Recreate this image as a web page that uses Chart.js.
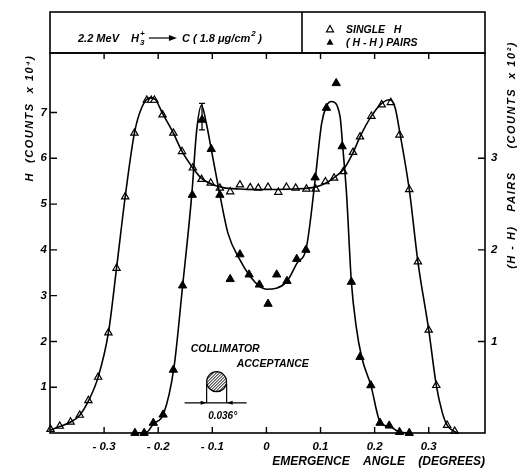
<!DOCTYPE html>
<html>
<head>
<meta charset="utf-8">
<script src="https://cdn.jsdelivr.net/npm/chart.js@4.4.1/dist/chart.umd.min.js"></script>
<style>
  body { margin: 0; background: #fff; }
  #wrap { width: 522px; height: 470px; position: relative; }
</style>
</head>
<body>
<div id="wrap"><canvas id="myChart"></canvas></div>
<script>
// Single H, open triangles: emergence angle (deg) and counts (x10^4)
var singleAngle = [-0.399, -0.382, -0.362, -0.345, -0.329, -0.311, -0.292, -0.277, -0.261, -0.244,
  -0.221, -0.213, -0.207, -0.192, -0.172, -0.156, -0.136, -0.120, -0.103, -0.086,
  -0.067, -0.049, -0.030, -0.015, 0.003, 0.022, 0.037, 0.054, 0.074, 0.091,
  0.109, 0.125, 0.142, 0.160, 0.173, 0.194, 0.213, 0.230, 0.246, 0.264,
  0.280, 0.300, 0.314, 0.334, 0.348];
var singleCounts = [0.08, 0.15, 0.24, 0.39, 0.71, 1.22, 2.19, 3.60, 5.16, 6.55,
  7.27, 7.27, 7.27, 6.95, 6.55, 6.15, 5.79, 5.54, 5.46, 5.35,
  5.27, 5.42, 5.36, 5.35, 5.37, 5.26, 5.37, 5.35, 5.33, 5.33,
  5.49, 5.57, 5.71, 6.13, 6.47, 6.92, 7.17, 7.22, 6.51, 5.32,
  3.74, 2.25, 1.04, 0.17, 0.04];

// smooth curve drawn through the single H points
var singleFitAngle = [-0.400, -0.382, -0.362, -0.345, -0.329, -0.311, -0.292, -0.277, -0.261, -0.244,
  -0.230, -0.215, -0.205, -0.192, -0.172, -0.156, -0.136, -0.120, -0.100, -0.080,
  -0.050, 0.000, 0.050, 0.090, 0.110, 0.125, 0.142, 0.160, 0.173, 0.194,
  0.213, 0.228, 0.238, 0.246, 0.264, 0.280, 0.300, 0.314, 0.325, 0.334, 0.348, 0.355];
var singleFitCounts = [0.06, 0.14, 0.24, 0.39, 0.70, 1.22, 2.19, 3.60, 5.16, 6.55,
  7.12, 7.32, 7.28, 6.98, 6.55, 6.15, 5.79, 5.56, 5.43, 5.36,
  5.33, 5.32, 5.33, 5.37, 5.46, 5.58, 5.75, 6.12, 6.47, 6.92,
  7.20, 7.28, 7.10, 6.60, 5.32, 3.74, 2.25, 1.04, 0.45, 0.17, 0.03, 0.00];

// (H-H) pairs, filled triangles: counts (x10^2), right axis
var pairAngle = [-0.243, -0.226, -0.209, -0.191, -0.172, -0.155, -0.137, -0.119, -0.102, -0.086,
  -0.067, -0.049, -0.032, -0.013, 0.003, 0.019, 0.038, 0.056, 0.073, 0.090,
  0.111, 0.129, 0.140, 0.157, 0.173, 0.193, 0.210, 0.227, 0.246, 0.264];
var pairCounts = [0.00, 0.00, 0.11, 0.20, 0.69, 1.61, 2.60, 3.42, 3.10, 2.60,
  1.68, 1.95, 1.73, 1.62, 1.41, 1.73, 1.66, 1.90, 2.00, 2.79,
  3.55, 3.82, 3.13, 1.65, 0.83, 0.52, 0.11, 0.08, 0.01, 0.00];

// fitted curve through the pairs
var pairFitAngle = [-0.240, -0.221, -0.209, -0.190, -0.171, -0.155, -0.138, -0.129, -0.120, -0.111,
  -0.102, -0.086, -0.071, -0.049, -0.030, -0.012, 0.000, 0.037, 0.056, 0.074,
  0.090, 0.102, 0.111, 0.120, 0.136, 0.141, 0.148, 0.157, 0.166, 0.176,
  0.193, 0.211, 0.228, 0.246, 0.265];
var pairFitCounts = [0.00, 0.01, 0.10, 0.21, 0.71, 1.60, 2.60, 3.30, 3.58, 3.38,
  3.10, 2.60, 2.18, 1.89, 1.71, 1.60, 1.57, 1.65, 1.85, 2.03,
  2.76, 3.38, 3.57, 3.62, 3.46, 3.13, 2.62, 1.65, 1.16, 0.83,
  0.52, 0.11, 0.07, 0.01, 0.00];

// error bar on the pair point at the left peak
var errAngle = [-0.119];
var errLow = [3.31];
var errHigh = [3.60];

var xTicks = [-0.3, -0.2, -0.1, 0, 0.1, 0.2, 0.3];
var leftTicks = [1, 2, 3, 4, 5, 6, 7];
var rightTicks = [1, 2, 3];

var FONT = '"Liberation Sans", Arial, sans-serif';

function pts(xs, ys) {
  return xs.map(function (x, i) { return { x: x, y: ys[i] }; });
}

// frame, inward ticks, header box, error bar, collimator sketch, axis titles
var extras = {
  id: 'extras',
  afterDraw: function (chart) {
    var ctx = chart.ctx, a = chart.chartArea;
    var sx = chart.scales.x, sy = chart.scales.y, sy2 = chart.scales.y2;
    ctx.save();
    ctx.strokeStyle = '#000';
    ctx.fillStyle = '#000';
    ctx.lineWidth = 1.6;
    ctx.strokeRect(a.left, a.top, a.right - a.left, a.bottom - a.top);

    ctx.lineWidth = 1.4;
    ctx.beginPath();
    xTicks.forEach(function (v) {
      var p = sx.getPixelForValue(v);
      ctx.moveTo(p, a.bottom); ctx.lineTo(p, a.bottom - 6);
      ctx.moveTo(p, a.top); ctx.lineTo(p, a.top + 6);
    });
    leftTicks.forEach(function (v) {
      var p = sy.getPixelForValue(v);
      ctx.moveTo(a.left, p); ctx.lineTo(a.left + 7, p);
    });
    rightTicks.forEach(function (v) {
      var p = sy2.getPixelForValue(v);
      ctx.moveTo(a.right, p); ctx.lineTo(a.right - 7, p);
    });
    ctx.stroke();

    // header box
    var top = 12, div = 302;
    ctx.lineWidth = 1.6;
    ctx.strokeRect(a.left, top, a.right - a.left, a.top - top);
    ctx.beginPath(); ctx.moveTo(div, top); ctx.lineTo(div, a.top); ctx.stroke();

    ctx.textBaseline = 'alphabetic';
    ctx.textAlign = 'left';
    var f = 'italic bold 11px ' + FONT, fs = 'italic bold 8px ' + FONT;
    var bx = 78, by = 42;
    ctx.font = f;
    ctx.fillText('2.2 MeV', bx, by); bx += ctx.measureText('2.2 MeV').width + 12;
    ctx.fillText('H', bx, by); bx += ctx.measureText('H').width + 1;
    ctx.font = fs;
    ctx.fillText('+', bx, by - 6);
    ctx.fillText('3', bx, by + 3); bx += 9;
    ctx.lineWidth = 1.2;
    ctx.beginPath(); ctx.moveTo(bx, by - 4); ctx.lineTo(bx + 24, by - 4); ctx.stroke();
    ctx.beginPath(); ctx.moveTo(bx + 28, by - 4); ctx.lineTo(bx + 20, by - 7); ctx.lineTo(bx + 20, by - 1); ctx.closePath(); ctx.fill();
    bx += 33;
    ctx.font = f;
    ctx.fillText('C ( 1.8 \u03bcg/cm', bx, by); bx += ctx.measureText('C ( 1.8 \u03bcg/cm').width + 1;
    ctx.font = fs;
    ctx.fillText('2', bx, by - 6); bx += 7;
    ctx.font = f;
    ctx.fillText(')', bx, by);

    // legend in the header
    var lx = 330;
    function tri(cx, cy, r, filled) {
      ctx.beginPath();
      ctx.moveTo(cx, cy - r); ctx.lineTo(cx + r, cy + r * 0.8); ctx.lineTo(cx - r, cy + r * 0.8); ctx.closePath();
      if (filled) ctx.fill(); else { ctx.lineWidth = 1.2; ctx.stroke(); }
    }
    tri(lx, 29, 3.5, false);
    tri(lx, 42, 3.5, true);
    ctx.font = 'italic bold 10.5px ' + FONT;
    ctx.fillText('SINGLE   H', lx + 16, 33);
    ctx.fillText('( H - H ) PAIRS', lx + 16, 46);

    // error bar
    errAngle.forEach(function (v, i) {
      var px = sx.getPixelForValue(v), y1 = sy2.getPixelForValue(errLow[i]), y2 = sy2.getPixelForValue(errHigh[i]);
      ctx.lineWidth = 1.3;
      ctx.beginPath();
      ctx.moveTo(px, y1); ctx.lineTo(px, y2);
      ctx.moveTo(px - 3, y1); ctx.lineTo(px + 3, y1);
      ctx.moveTo(px - 3, y2); ctx.lineTo(px + 3, y2);
      ctx.stroke();
    });

    // collimator acceptance sketch
    var cx = sx.getPixelForValue(-0.092), cy = sy.getPixelForValue(1.12), r = 10;
    var base = sy.getPixelForValue(0.66);
    ctx.lineWidth = 1.2;
    ctx.beginPath(); ctx.arc(cx, cy, r, 0, Math.PI * 2); ctx.stroke();
    ctx.save();
    ctx.beginPath(); ctx.arc(cx, cy, r, 0, Math.PI * 2); ctx.clip();
    ctx.lineWidth = 1;
    for (var k = -24; k <= 24; k += 3) {
      ctx.beginPath(); ctx.moveTo(cx + k - 12, cy + 12); ctx.lineTo(cx + k + 12, cy - 12); ctx.stroke();
    }
    ctx.restore();
    ctx.beginPath();
    ctx.moveTo(cx - r, cy + 2); ctx.lineTo(cx - r, base);
    ctx.moveTo(cx + r, cy + 2); ctx.lineTo(cx + r, base);
    ctx.moveTo(cx - 32, base); ctx.lineTo(cx + 30, base);
    ctx.stroke();
    ctx.beginPath();
    ctx.moveTo(cx - r, base); ctx.lineTo(cx - r - 6, base - 2); ctx.lineTo(cx - r - 6, base + 2); ctx.closePath();
    ctx.moveTo(cx + r, base); ctx.lineTo(cx + r + 6, base - 2); ctx.lineTo(cx + r + 6, base + 2); ctx.closePath();
    ctx.fill();
    ctx.font = 'italic bold 10px ' + FONT;
    ctx.textAlign = 'center';
    ctx.fillText('0.036\u00b0', cx + 6, base + 16);
    ctx.textAlign = 'left';
    ctx.font = 'italic bold 10.5px ' + FONT;
    ctx.fillText('COLLIMATOR', cx - 26, cy - 30);
    ctx.fillText('ACCEPTANCE', cx + 20, cy - 15);

    // axis titles, both read bottom to top
    ctx.font = 'italic bold 11px ' + FONT;
    ctx.textAlign = 'center';
    ctx.textBaseline = 'middle';
    ctx.letterSpacing = '1.5px';
    ctx.save();
    ctx.translate(30, 118); ctx.rotate(-Math.PI / 2);
    ctx.fillText('H  (COUNTS  x 10\u2074)', 0, 0);
    ctx.restore();
    ctx.save();
    ctx.translate(512, 155); ctx.rotate(-Math.PI / 2);
    ctx.fillText('(H - H)   PAIRS     (COUNTS  x 10\u00b2)', 0, 0);
    ctx.restore();
    ctx.letterSpacing = '0px';

    ctx.restore();
  }
};

var ctx = document.getElementById('myChart').getContext('2d');
var myChart = new Chart(ctx, {
  type: 'scatter',
  data: {
    datasets: [{
      label: 'single fit',
      data: pts(singleFitAngle, singleFitCounts),
      yAxisID: 'y',
      showLine: true,
      borderColor: '#000',
      borderWidth: 1.6,
      pointRadius: 0,
      cubicInterpolationMode: 'monotone'
    }, {
      label: 'pairs fit',
      data: pts(pairFitAngle, pairFitCounts),
      yAxisID: 'y2',
      showLine: true,
      borderColor: '#000',
      borderWidth: 1.6,
      pointRadius: 0,
      cubicInterpolationMode: 'monotone'
    }, {
      label: 'SINGLE H',
      data: pts(singleAngle, singleCounts),
      yAxisID: 'y',
      showLine: false,
      pointStyle: 'triangle',
      pointRadius: 4.2,
      pointBackgroundColor: '#fff',
      pointBorderColor: '#000',
      pointBorderWidth: 1.2,
      clip: false
    }, {
      label: '(H - H) PAIRS',
      data: pts(pairAngle, pairCounts),
      yAxisID: 'y2',
      showLine: false,
      pointStyle: 'triangle',
      pointRadius: 4.8,
      pointBackgroundColor: '#000',
      pointBorderColor: '#000',
      pointBorderWidth: 1,
      clip: false
    }]
  },
  options: {
    responsive: true,
    maintainAspectRatio: false,
    animation: false,
    layout: { padding: { top: 53, left: 0, right: 0, bottom: 0 } },
    plugins: { legend: { display: false }, tooltip: { enabled: false } },
    scales: {
      x: {
        type: 'linear',
        min: -0.4,
        max: 0.404,
        afterBuildTicks: function (s) { s.ticks = xTicks.map(function (v) { return { value: v }; }); },
        afterFit: function (s) { s.height = 37; },
        ticks: {
          padding: 7,
          color: '#000',
          font: { family: FONT, size: 11.5, style: 'italic', weight: 'bold' },
          callback: function (v) { return v === 0 ? '0' : (v < 0 ? '- ' + Math.abs(v).toFixed(1) : v.toFixed(1)); }
        },
        grid: { display: false, drawTicks: false },
        border: { display: false },
        title: {
          display: true,
          text: 'EMERGENCE    ANGLE    (DEGREES)',
          align: 'end',
          color: '#000',
          padding: { top: 0, bottom: 1 },
          font: { family: FONT, size: 12, style: 'italic', weight: 'bold' }
        }
      },
      y: {
        position: 'left',
        min: 0,
        max: 8.3,
        afterBuildTicks: function (s) { s.ticks = leftTicks.map(function (v) { return { value: v }; }); },
        afterFit: function (s) { s.width = 50; },
        ticks: {
          padding: 3,
          color: '#000',
          font: { family: FONT, size: 11.5, style: 'italic', weight: 'bold' }
        },
        grid: { display: false, drawTicks: false },
        border: { display: false }
      },
      y2: {
        position: 'right',
        min: 0,
        max: 4.15,
        afterBuildTicks: function (s) { s.ticks = rightTicks.map(function (v) { return { value: v }; }); },
        afterFit: function (s) { s.width = 37; },
        ticks: {
          padding: 6,
          color: '#000',
          font: { family: FONT, size: 11.5, style: 'italic', weight: 'bold' }
        },
        grid: { display: false, drawTicks: false },
        border: { display: false }
      }
    }
  },
  plugins: [extras]
});
</script>
</body>
</html>
